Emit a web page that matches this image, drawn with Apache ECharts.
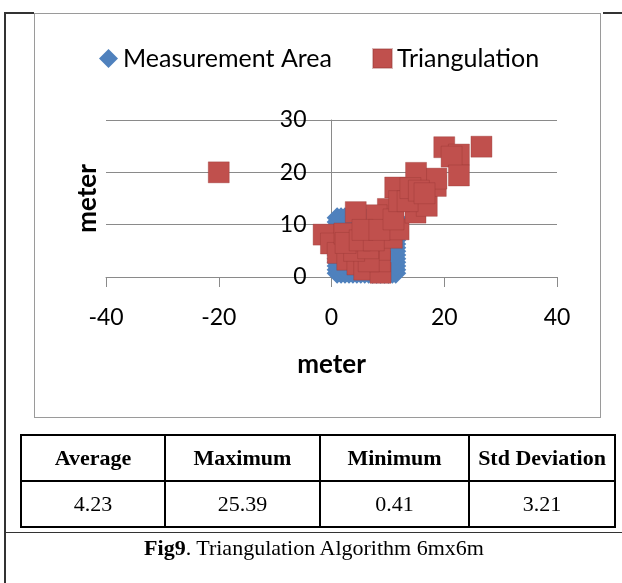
<!DOCTYPE html>
<html>
<head>
<meta charset="utf-8">
<script src="https://cdn.jsdelivr.net/npm/echarts@6/dist/echarts.min.js"></script>
<style>
  html, body { margin: 0; padding: 0; background: #fff; }
  body { width: 622px; height: 583px; position: relative; overflow: hidden; }
  #chartBox { position: absolute; left: 34px; top: 13px; width: 567px; height: 405px; border: 1px solid #9a9a9a; box-sizing: border-box; }
  #chart { position: absolute; left: 0; top: 0; width: 622px; height: 583px; z-index: 2; }
  .ln { position: absolute; background: #333; z-index: 3; }
  #stats { position: absolute; left: 20px; top: 434px; border-collapse: collapse; table-layout: fixed; z-index: 3;
           font-family: "Liberation Serif", "DejaVu Serif", serif; font-size: 22px; color: #000; }
  #stats td, #stats th { border: 2px solid #000; text-align: center; height: 44px; padding: 0; }
  #stats th { font-weight: bold; }
  #caption { position: absolute; left: 6px; right: 0; top: 535px; text-align: center; z-index: 3;
             font-family: "Liberation Serif", "DejaVu Serif", serif; font-size: 22px; color: #000; }
</style>
</head>
<body>
<div id="chartBox"></div>
<div id="chart"></div>
<div class="ln" style="left:4px; top:12px; width:2px; height:571px;"></div>
<div class="ln" style="left:4px; top:12px; width:30px; height:2px;"></div>
<div class="ln" style="left:603px; top:12px; width:19px; height:2px;"></div>
<div class="ln" style="left:4px; top:532px; width:618px; height:1px;"></div>
<table id="stats"></table>
<div id="caption"><b>Fig9</b>. Triangulation Algorithm 6mx6m</div>
<script>
// ---- data ----
const seriesNames = ['Measurement Area', 'Triangulation'];
const xTicks = [-40, -20, 0, 20, 40];
const yTicks = [0, 10, 20, 30];
const axisTitleX = 'meter';
const axisTitleY = 'meter';

// Measurement Area (blue diamonds): outline of the measured area
const measurementX = [
  1.0, 1.0, 1.0, 1.0, 1.0, 1.0, 1.0, 1.0, 1.0, 1.0, 1.0, 1.0, 1.0, 1.0, 1.0, 1.0,
  1.7, 2.4, 3.1, 3.8, 4.5, 5.2, 5.9, 6.6, 7.3, 8.0, 8.7, 9.4, 10.1, 10.8, 11.4,
  11.4, 11.4, 11.4, 11.4, 11.4, 11.4, 11.4, 11.4, 11.4, 11.4, 11.4, 11.4, 11.4, 11.4, 11.4,
  1.7, 2.4, 3.1, 3.8, 4.5, 5.2, 5.9, 6.6, 7.3, 8.0, 8.7, 9.4, 10.1, 10.8,
  4.5, 6.0, 7.5, 6.0
];
const measurementY = [
  0.7, 1.4, 2.1, 2.8, 3.5, 4.2, 4.9, 5.6, 6.3, 7.0, 7.7, 8.4, 9.1, 9.8, 10.5, 11.3,
  0.7, 0.7, 0.7, 0.7, 0.7, 0.7, 0.7, 0.7, 0.7, 0.7, 0.7, 0.7, 0.7, 0.7, 0.7,
  1.4, 2.1, 2.8, 3.5, 4.2, 4.9, 5.6, 6.3, 7.0, 7.7, 8.4, 9.1, 9.8, 10.5, 11.3,
  11.3, 11.3, 11.3, 11.3, 11.3, 11.3, 11.3, 11.3, 11.3, 11.3, 11.3, 11.3, 11.3, 11.3,
  5.0, 6.5, 5.0, 8.5
];

// Triangulation estimates (red squares)
const triX = [-20.0,
              -1.4, -0.1, 1.1, 2.8, 4.6, 5.8, 8.7, 8.6, 8.6, 10.7, 11.9, 14.9, 16.9, 18.5, 18.6,
              15.0, 11.3, 10.0, 8.0, 4.3, 2.3,
              6.6, 4.0, 6.5, 2.5, 5.0, 7.5, 5.5, 8.5, 11.0, 12.0, 13.5, 14.0, 15.5, 16.5,
              20.0, 22.6, 21.3, 22.6, 26.6];
const triY = [20.0,
              8.1, 6.4, 4.6, 3.3, 2.4, 1.4, 0.8, 3.0, 5.2, 7.5, 9.1, 12.3, 13.6, 17.4, 18.8,
              19.9, 17.1, 13.0, 11.8, 12.4, 8.3,
              3.0, 5.0, 5.5, 6.5, 7.0, 7.0, 9.0, 9.0, 11.0, 14.5, 14.5, 17.0, 16.5, 16.0,
              24.8, 23.4, 23.0, 19.4, 24.9];

// Statistics table
const statHeaders = ['Average', 'Maximum', 'Minimum', 'Std Deviation'];
const statValues = ['4.23', '25.39', '0.41', '3.21'];
const statColWidths = [144, 155, 149, 146];

// ---- table ----
(function () {
  const t = document.getElementById('stats');
  const cg = document.createElement('colgroup');
  statColWidths.forEach(w => { const c = document.createElement('col'); c.style.width = w + 'px'; cg.appendChild(c); });
  t.appendChild(cg);
  const r1 = document.createElement('tr');
  statHeaders.forEach(h => { const th = document.createElement('th'); th.textContent = h; r1.appendChild(th); });
  const r2 = document.createElement('tr');
  statValues.forEach(v => { const td = document.createElement('td'); td.textContent = v; r2.appendChild(td); });
  t.appendChild(r1); t.appendChild(r2);
})();

// ---- chart ----
const pair = (xs, ys) => xs.map((x, i) => [x, ys[i]]);
const chart = echarts.init(document.getElementById('chart'), null, { renderer: 'canvas' });
const FONT = 'Lato';
const gridColor = '#8a8a8a';
const GRID = { left: 106, right: 65, top: 120, bottom: 306 };
const gridWidth = 622 - GRID.left - GRID.right;
const xMin = xTicks[0], xMax = xTicks[xTicks.length - 1];
// the vertical axis crosses the horizontal one at x = 0
const yAxisOffset = -((0 - xMin) / (xMax - xMin)) * gridWidth;

chart.setOption({
  animation: false,
  backgroundColor: 'transparent',
  legend: {
    left: 94, top: 41, padding: 5,
    itemWidth: 19, itemHeight: 19, itemGap: 40,
    selectedMode: false,
    textStyle: { fontFamily: FONT, fontSize: 25, color: '#000' },
    data: [
      { name: seriesNames[0], icon: 'diamond', textStyle: { width: 211, overflow: 'none' } },
      { name: seriesNames[1], icon: 'rect' }
    ]
  },
  grid: Object.assign({ outerBoundsMode: 'none', containLabel: false }, GRID),
  xAxis: {
    type: 'value',
    min: xMin, max: xMax, interval: xTicks[1] - xTicks[0],
    name: axisTitleX, nameLocation: 'middle', nameGap: 75,
    nameTextStyle: { fontFamily: FONT, fontSize: 26, fontWeight: 'bold', color: '#000' },
    axisLine: { show: true, onZero: true, lineStyle: { color: gridColor, width: 1 } },
    axisTick: { show: true, inside: false, length: 10, lineStyle: { color: gridColor, width: 1 } },
    axisLabel: { margin: 29, fontFamily: FONT, fontSize: 23, color: '#000' },
    splitLine: { show: false }
  },
  yAxis: {
    type: 'value',
    min: yTicks[0], max: yTicks[yTicks.length - 1], interval: yTicks[1] - yTicks[0],
    offset: yAxisOffset,
    name: axisTitleY, nameLocation: 'middle', nameGap: 231, nameRotate: 90,
    nameTextStyle: { fontFamily: FONT, fontSize: 26, fontWeight: 'bold', color: '#000' },
    axisLine: { show: true, onZero: false, lineStyle: { color: gridColor, width: 1 } },
    axisTick: { show: false },
    axisLabel: { margin: 25, fontFamily: FONT, fontSize: 23, color: '#000' },
    splitLine: { show: true, lineStyle: { color: gridColor, width: 1 } }
  },
  series: [
    {
      name: seriesNames[0], type: 'scatter', symbol: 'diamond', symbolSize: 21,
      itemStyle: { color: '#4F81BD', opacity: 1 },
      emphasis: { disabled: true }, silent: true,
      data: pair(measurementX, measurementY)
    },
    {
      name: seriesNames[1], type: 'scatter', symbol: 'rect', symbolSize: 21,
      itemStyle: { color: '#C0504D', borderColor: 'rgba(150,55,52,0.35)', borderWidth: 1, opacity: 1 },
      emphasis: { disabled: true }, silent: true,
      data: pair(triX, triY)
    }
  ]
});
</script>
</body>
</html>
